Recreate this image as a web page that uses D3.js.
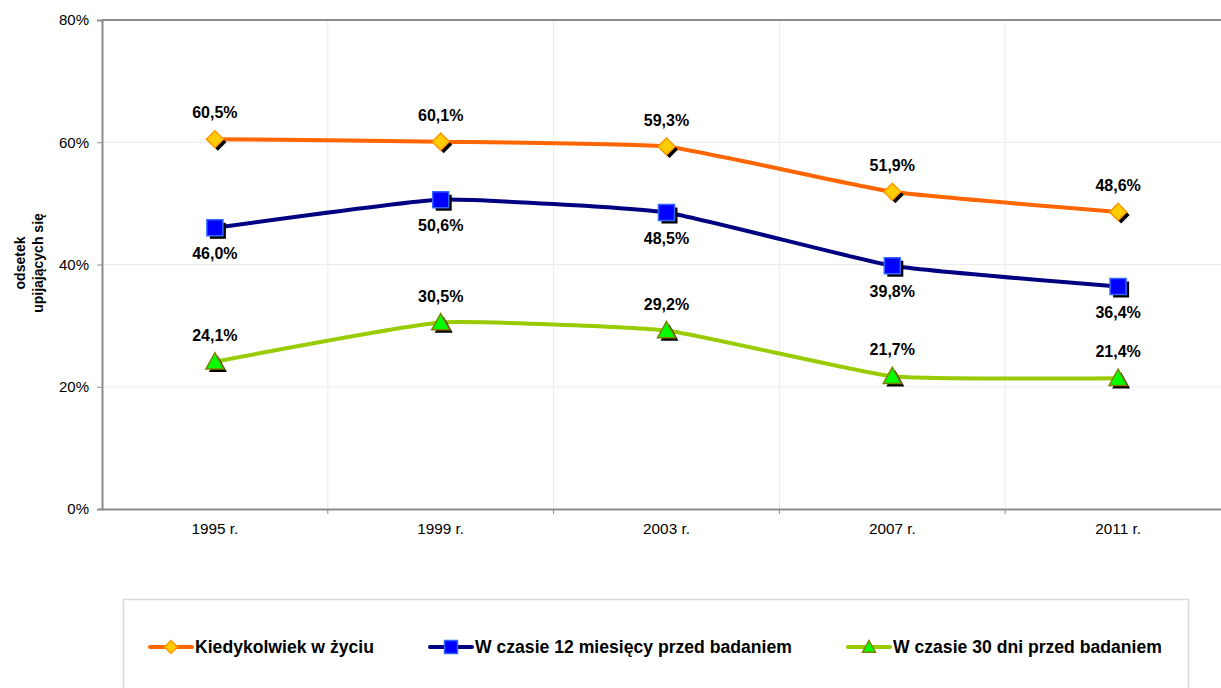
<!DOCTYPE html>
<html><head><meta charset="utf-8">
<script src="https://cdnjs.cloudflare.com/ajax/libs/d3/7.8.5/d3.min.js"></script>
<style>body{margin:0;background:#fff;font-family:"Liberation Sans",Arial,sans-serif}</style>
</head><body><svg id="c" width="1221" height="688"></svg>
<script>
const categories = ["1995 r.", "1999 r.", "2003 r.", "2007 r.", "2011 r."];
const seriesNames = ["Kiedykolwiek w życiu", "W czasie 12 miesięcy przed badaniem", "W czasie 30 dni przed badaniem"];
const lifetime = [60.5, 60.1, 59.3, 51.9, 48.6];
const last12m = [46.0, 50.6, 48.5, 39.8, 36.4];
const last30d = [24.1, 30.5, 29.2, 21.7, 21.4];
const yTicks = [0, 20, 40, 60, 80];

const svg = d3.select("#c");
const L = 102, T = 20, R = 1231, B = 509;
const x = d3.scaleBand().domain(categories).range([L, R]);
const y = d3.scaleLinear().domain([0, 80]).range([B, T]);
const cx = d => x(d) + x.bandwidth() / 2;

// gridlines
svg.append("g").selectAll("line").data(yTicks.slice(1, -1)).join("line")
  .attr("x1", L).attr("x2", R).attr("y1", d => y(d)).attr("y2", d => y(d))
  .attr("stroke", "#ececec").attr("stroke-width", 1);
svg.append("g").selectAll("line").data(categories.slice(1)).join("line")
  .attr("x1", d => x(d)).attr("x2", d => x(d)).attr("y1", T).attr("y2", B)
  .attr("stroke", "#ececec").attr("stroke-width", 1);
// top border
svg.append("line").attr("x1", L).attr("x2", R).attr("y1", T).attr("y2", T)
  .attr("stroke", "#8c8c8c").attr("stroke-width", 2);

// y axis
const ya = svg.append("g").attr("transform", `translate(${L},0)`)
  .call(d3.axisLeft(y).tickValues(yTicks).tickFormat(d => d + "%").tickSize(5).tickPadding(8));
ya.select(".domain").attr("stroke", "#8c8c8c").attr("stroke-width", 2);
ya.selectAll(".tick line").attr("stroke", "#8c8c8c");
ya.selectAll(".tick text").attr("font-size", 15).attr("fill", "#000").attr("font-family", "Liberation Sans, Arial");

// x axis
const xa = svg.append("g").attr("transform", `translate(0,${B})`)
  .call(d3.axisBottom(x).tickSize(0).tickPadding(14));
xa.select(".domain").attr("stroke", "#8c8c8c").attr("stroke-width", 2);
xa.selectAll(".tick text").attr("font-size", 15.3).attr("fill", "#000").attr("font-family", "Liberation Sans, Arial");
svg.append("g").selectAll("line").data(categories.slice(1)).join("line")
  .attr("x1", d => x(d)).attr("x2", d => x(d)).attr("y1", B).attr("y2", B + 5)
  .attr("stroke", "#8c8c8c");

// y title
const yt = svg.append("text").attr("transform", "translate(25,263) rotate(-90)")
  .attr("text-anchor", "middle").attr("font-size", 14).attr("font-weight", "bold");
yt.append("tspan").attr("x", 0).attr("y", 0).text("odsetek");
yt.append("tspan").attr("x", 0).attr("y", 18).text("upijających się");

const series = [
  {name: seriesNames[0], values: lifetime, line: "#ff6600", fill: "#ffcc00", stroke: "#ff9900", shape: "diamond", dy: -21},
  {name: seriesNames[1], values: last12m, line: "#000080", fill: "#0000ff", stroke: "#3366ff", shape: "square", dy: 31},
  {name: seriesNames[2], values: last30d, line: "#99cc00", fill: "#00ff00", stroke: "#808000", shape: "triangle", dy: -21}
];
const shapePath = (shape, s) => {
  if (shape === "diamond") return `M0,${-s}L${s},0L0,${s}L${-s},0Z`;
  if (shape === "square") return `M${-s},${-s}H${s}V${s}H${-s}Z`;
  return `M0,${-s}L${s},${s*0.8}H${-s}Z`;
};
const sizes = {diamond: 8.5, square: 8, triangle: 9};
const lineGen = d3.line().curve(d3.curveCardinal.tension(0.6));

series.forEach(s => {
  const pts = s.values.map((v, i) => [cx(categories[i]), y(v)]);
  svg.append("path").attr("d", lineGen(pts)).attr("fill", "none")
    .attr("stroke", s.line).attr("stroke-width", 4);
  const g = svg.append("g");
  g.selectAll("path.sh").data(pts).join("path").attr("class", "sh")
    .attr("transform", d => `translate(${d[0] + 3},${d[1] + 3})`)
    .attr("d", shapePath(s.shape, sizes[s.shape])).attr("fill", "#000");
  g.selectAll("path.mk").data(pts).join("path").attr("class", "mk")
    .attr("transform", d => `translate(${d[0]},${d[1]})`)
    .attr("d", shapePath(s.shape, sizes[s.shape]))
    .attr("fill", s.fill).attr("stroke", s.stroke).attr("stroke-width", 1.5);
  g.selectAll("text").data(s.values).join("text")
    .attr("x", (v, i) => cx(categories[i])).attr("y", v => y(v) + s.dy)
    .attr("text-anchor", "middle").attr("font-size", 16).attr("font-weight", "bold")
    .text(v => v.toFixed(1).replace(".", ",") + "%");
});

// legend
svg.append("rect").attr("x", 123.5).attr("y", 599.5).attr("width", 1065).attr("height", 120)
  .attr("fill", "#fff").attr("stroke", "#d9d9d9").attr("stroke-width", 1.5);
const legX = [150, 430, 848];
series.forEach((s, i) => {
  const g = svg.append("g").attr("transform", `translate(${legX[i]},647)`);
  g.append("line").attr("x1", 0).attr("x2", 42).attr("stroke", s.line).attr("stroke-width", 4).attr("stroke-linecap", "round");
  g.append("path").attr("transform", "translate(21,0)").attr("d", shapePath(s.shape, 6.5))
    .attr("fill", s.fill).attr("stroke", s.stroke).attr("stroke-width", 1.5);
  g.append("text").attr("x", 45).attr("y", 6).attr("font-size", 17.6).attr("font-weight", "bold").text(s.name);
});
</script></body></html>
